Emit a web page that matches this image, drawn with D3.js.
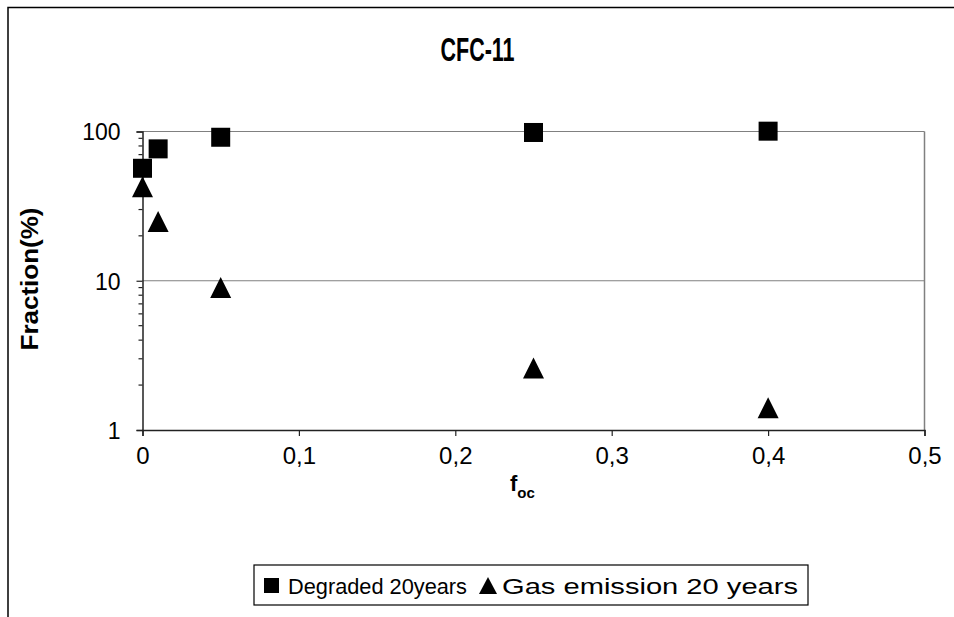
<!DOCTYPE html>
<html>
<head>
<meta charset="utf-8">
<script src="https://cdn.jsdelivr.net/npm/d3@7"></script>
<style>
  html, body { margin: 0; padding: 0; background: #fff; }
  svg text { font-family: Arial, "Liberation Sans", sans-serif; }
</style>
</head>
<body>
<svg id="chart" width="954" height="617"></svg>
<script>
const foc = [0, 0.01, 0.05, 0.25, 0.4];
const degraded = [56.7, 76.5, 91.5, 98.5, 100.5];
const gasEmission = [42.7, 24.9, 9.0, 2.6, 1.41];
const xTicks = [0, 0.1, 0.2, 0.3, 0.4, 0.5];
const yTicks = [1, 10, 100];
const seriesNames = ["Degraded 20years", "Gas emission 20 years"];

const svg = d3.select("#chart");
const plot = { left: 142.5, right: 924.5, top: 131.5, bottom: 430 };
const FONT = "Arial, 'Liberation Sans', sans-serif";

// outer frame
svg.append("rect").attr("x", 8).attr("y", 7.5).attr("width", 1000).attr("height", 700)
  .attr("fill", "#fff").attr("stroke", "#000").attr("stroke-width", 1.5);

const x = d3.scaleLinear().domain([0, 0.5]).range([plot.left, plot.right]);
const y = d3.scaleLog().domain([1, 100]).range([plot.bottom, plot.top]);

// gridlines at major y
svg.append("g").selectAll("line").data(yTicks.filter(d => d > 1)).join("line")
  .attr("x1", plot.left).attr("x2", plot.right)
  .attr("y1", d => y(d)).attr("y2", d => y(d))
  .attr("stroke", "#808080").attr("stroke-width", 1.2);

// right border
svg.append("line").attr("x1", plot.right).attr("x2", plot.right)
  .attr("y1", plot.top).attr("y2", plot.bottom)
  .attr("stroke", "#808080").attr("stroke-width", 1.5);

// minor ticks on y axis
const minor = [];
for (let dec = 1; dec < 100; dec *= 10) for (let k = 2; k <= 9; k++) minor.push(dec * k);

const yAxis = d3.axisLeft(y).tickValues(yTicks).tickFormat(d3.format("d")).tickSize(6).tickPadding(16);
const gy = svg.append("g").attr("transform", `translate(${plot.left},0)`).call(yAxis);
gy.select(".domain").attr("stroke", "#222").attr("stroke-width", 1.5);
gy.selectAll(".tick line").attr("stroke", "#222").attr("stroke-width", 1.2);
gy.selectAll(".tick text").attr("font-size", 23).attr("fill", "#000").attr("dy", "0.36em")
  .style("font-family", FONT);

svg.append("g").selectAll("line").data(minor).join("line")
  .attr("x1", plot.left - 4).attr("x2", plot.left)
  .attr("y1", d => y(d)).attr("y2", d => y(d))
  .attr("stroke", "#222").attr("stroke-width", 1.2);

const xAxis = d3.axisBottom(x).tickValues(xTicks)
  .tickFormat(d => d === 0 ? "0" : d3.format(".1f")(d).replace(".", ","))
  .tickSize(6).tickPadding(11);
const gx = svg.append("g").attr("transform", `translate(0,${plot.bottom})`).call(xAxis);
gx.select(".domain").attr("stroke", "#222").attr("stroke-width", 1.5);
gx.selectAll(".tick line").attr("stroke", "#222").attr("stroke-width", 1.2);
gx.selectAll(".tick text").attr("font-size", 24).attr("fill", "#000")
  .style("font-family", FONT);

// markers
const sq = 19;
svg.append("g").selectAll("rect").data(foc).join("rect")
  .attr("x", (d) => x(d) - sq / 2)
  .attr("y", (d, i) => y(degraded[i]) - sq / 2)
  .attr("width", sq).attr("height", sq).attr("fill", "#000");

const triW = 21, triH = 21;
svg.append("g").selectAll("path").data(foc).join("path")
  .attr("d", (d, i) => {
    const cx = x(d), cy = y(gasEmission[i]);
    return `M${cx},${cy - triH / 2}L${cx + triW / 2},${cy + triH / 2}L${cx - triW / 2},${cy + triH / 2}Z`;
  })
  .attr("fill", "#000");

// title (tall, condensed look)
svg.append("text").attr("transform", "translate(477.5,61) scale(1,1.35)")
  .attr("text-anchor", "middle").attr("font-size", 24).attr("font-weight", "bold")
  .attr("textLength", 74).attr("lengthAdjust", "spacingAndGlyphs")
  .text("CFC-11");

// y label
svg.append("text").attr("transform", "translate(38,279) rotate(-90)")
  .attr("text-anchor", "middle").attr("font-size", 23).attr("font-weight", "bold")
  .attr("textLength", 143).attr("lengthAdjust", "spacingAndGlyphs")
  .text("Fraction(%)");

// x label with subscript
const xl = svg.append("text").attr("x", 510).attr("y", 491)
  .attr("font-size", 22).attr("font-weight", "bold");
xl.append("tspan").text("f");
xl.append("tspan").attr("font-size", 15).attr("dy", 7).text("oc");

// legend
const lg = svg.append("g");
lg.append("rect").attr("x", 254).attr("y", 565).attr("width", 554).attr("height", 40)
  .attr("fill", "#fff").attr("stroke", "#000").attr("stroke-width", 1.2);
lg.append("rect").attr("x", 264).attr("y", 578).attr("width", 15).attr("height", 15).attr("fill", "#000");
lg.append("text").attr("x", 288).attr("y", 594).attr("font-size", 22)
  .attr("textLength", 179).attr("lengthAdjust", "spacingAndGlyphs").text(seriesNames[0]);
lg.append("path").attr("d", "M488,577L497,594L479,594Z").attr("fill", "#000");
lg.append("text").attr("x", 502).attr("y", 594).attr("font-size", 22)
  .attr("textLength", 296).attr("lengthAdjust", "spacingAndGlyphs").text(seriesNames[1]);
</script>
</body>
</html>
